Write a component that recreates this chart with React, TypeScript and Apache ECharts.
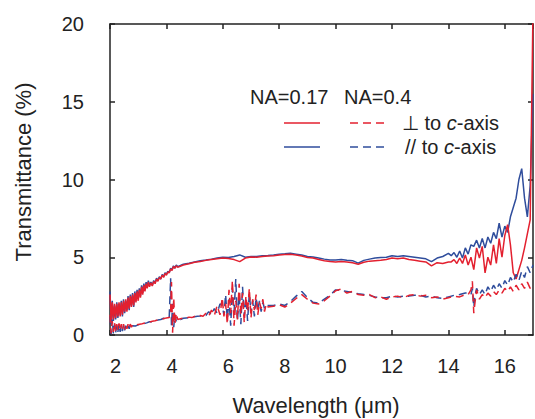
import React, { useEffect, useRef } from 'react';
import * as echarts from 'echarts';

// Wavelength grid (µm) shared by the two NA=0.17 curves
const wavelengthUpper = [
  2.00, 2.04, 2.08, 2.12, 2.16, 2.20, 2.24, 2.28, 2.32, 2.36, 2.40, 2.44, 2.48, 2.52, 2.56, 2.60, 2.64, 2.68,
  2.72, 2.76, 2.80, 2.84, 2.88, 2.92, 2.96, 3.00, 3.04, 3.08, 3.12, 3.16, 3.20, 3.24, 3.28, 3.32, 3.36, 3.40,
  3.45, 3.50, 3.55, 3.60, 3.65, 3.70, 3.75, 3.80, 3.85, 3.90, 3.95, 4.00, 4.05, 4.10, 4.15, 4.20, 4.25, 4.30,
  4.35, 4.40,
  4.6, 4.8, 5.0, 5.2, 5.4, 5.6, 5.8, 6.0, 6.2, 6.4, 6.6, 6.8, 7.0, 7.2, 7.4, 7.6, 7.8, 8.0, 8.2, 8.4, 8.6, 8.8,
  9.0, 9.2, 9.4, 9.6, 9.8, 10.0, 10.2, 10.4, 10.6, 10.8, 11.0, 11.2, 11.4, 11.6, 11.8, 12.0, 12.2, 12.4, 12.6,
  12.8, 13.0, 13.2, 13.4, 13.6, 13.8, 14.0,
  14.1, 14.2, 14.3, 14.4, 14.5, 14.6, 14.7, 14.8, 14.9, 15.0, 15.1, 15.2, 15.3, 15.4, 15.5, 15.6, 15.7, 15.8,
  15.9, 16.0, 16.1, 16.2, 16.3, 16.4, 16.5, 16.6, 16.7, 16.8, 16.9, 17.0,
];

// NA=0.17, ⊥ to c-axis (red solid)
const perpNA017 = [
  2.6, 0.9, 2.1, 1.0, 2.0, 1.1, 2.0, 1.2, 2.1, 1.2, 2.1, 1.3, 2.2, 1.5, 2.3, 1.5, 2.4, 1.7,
  2.5, 1.8, 2.6, 1.9, 2.7, 2.1, 2.8, 2.2, 2.9, 2.4, 3.1, 2.6, 3.2, 2.8, 3.3, 3.0, 3.4, 3.1,
  3.35, 3.15, 3.45, 3.3, 3.6, 3.45, 3.7, 3.6, 3.85, 3.7, 3.95, 3.85, 4.05, 4.0, 4.25, 4.15, 4.4, 4.3, 4.45, 4.35,
  4.5, 4.58, 4.68, 4.72, 4.8, 4.85, 4.9, 4.95, 4.92, 4.85, 4.72, 4.95, 5.02, 5.0, 5.05, 5.08, 5.1, 5.15,
  5.18, 5.2, 5.15, 5.08, 4.98, 4.95, 4.85, 4.78, 4.72, 4.7, 4.72, 4.7, 4.65, 4.55, 4.68, 4.75, 4.78, 4.8,
  4.85, 4.95, 4.9, 4.95, 4.85, 4.8, 4.75, 4.7, 4.45, 4.65, 4.6, 4.7,
  4.7, 4.85, 4.6, 4.95, 4.6, 5.15, 4.5, 5.0, 4.2, 5.6, 4.95, 5.7, 4.0, 5.0, 4.5, 5.8, 4.6, 6.2,
  5.0, 6.4, 7.1, 5.8, 4.0, 3.6, 4.2, 4.8, 5.6, 6.5, 7.4, 21,
];

// NA=0.17, // to c-axis (blue solid)
const paraNA017 = [
  2.8, 0.8, 2.2, 0.9, 1.9, 1.0, 2.1, 1.1, 2.0, 1.3, 2.2, 1.2, 2.3, 1.4, 2.2, 1.6, 2.5, 1.6,
  2.6, 1.9, 2.7, 1.8, 2.8, 2.2, 2.9, 2.3, 3.0, 2.5, 3.2, 2.7, 3.3, 2.9, 3.4, 3.1, 3.5, 3.2,
  3.4, 3.2, 3.5, 3.35, 3.65, 3.5, 3.75, 3.6, 3.9, 3.75, 4.0, 3.9, 4.1, 4.0, 4.3, 4.2, 4.45, 4.3, 4.5, 4.4,
  4.55, 4.62, 4.7, 4.78, 4.82, 4.88, 4.95, 5.0, 4.98, 5.05, 5.15, 5.0, 5.05, 5.05, 5.1, 5.12, 5.15, 5.2,
  5.22, 5.25, 5.2, 5.15, 5.05, 5.02, 4.95, 4.88, 4.82, 4.82, 4.85, 4.8, 4.78, 4.62, 4.8, 4.88, 4.95, 4.98,
  5.0, 5.1, 5.05, 5.1, 5.05, 5.0, 4.95, 4.9, 4.72, 4.95, 5.05, 5.25,
  5.1, 5.3, 5.0, 5.4, 4.95, 5.6, 5.2, 5.8, 5.7, 6.1, 5.6, 6.2, 5.6, 6.3, 5.9, 6.6, 6.2, 7.2,
  6.3, 7.0, 6.6, 7.6, 8.2, 8.8, 10.0, 10.7, 8.8, 7.6, 9.6, 15.5,
];

// Wavelength grid (µm) shared by the two NA=0.4 curves
const wavelengthLower = [
  2.00, 2.04, 2.08, 2.12, 2.16, 2.20, 2.24, 2.28, 2.32, 2.36, 2.40, 2.44, 2.48, 2.52, 2.56, 2.60, 2.64, 2.68,
  2.72, 2.76, 2.80,
  2.9, 3.0, 3.1, 3.2, 3.3, 3.4, 3.5, 3.6, 3.7, 3.8, 3.9, 4.0, 4.1,
  4.15, 4.18, 4.22, 4.26, 4.30, 4.35, 4.40,
  4.5, 4.6, 4.7, 4.8, 4.9, 5.0, 5.1, 5.2, 5.3, 5.4, 5.5, 5.6, 5.7, 5.8, 5.9,
  5.98, 6.04, 6.10, 6.16, 6.22, 6.28, 6.34, 6.40, 6.46, 6.52, 6.58, 6.64, 6.70, 6.76, 6.82, 6.88, 6.94, 7.00,
  7.06, 7.12, 7.18, 7.24, 7.30, 7.36, 7.42, 7.48, 7.54, 7.60,
  7.8, 8.0, 8.2, 8.4, 8.6, 8.8, 9.0, 9.2, 9.4, 9.6, 9.8, 10.0, 10.2, 10.4, 10.6, 10.8, 11.0, 11.2, 11.4, 11.6,
  11.8, 12.0, 12.2, 12.4, 12.6, 12.8, 13.0, 13.2, 13.4, 13.6, 13.8, 14.0, 14.2, 14.4, 14.6,
  14.7, 14.8, 14.85, 14.9, 14.95, 15.0, 15.1, 15.2, 15.3, 15.4, 15.5, 15.6, 15.7, 15.8, 15.9, 16.0, 16.1,
  16.2, 16.3, 16.4, 16.5, 16.6, 16.7, 16.8, 16.9, 17.0,
];

// NA=0.4, ⊥ to c-axis (red dashed)
const perpNA04 = [
  1.3, 0.1, 0.9, 0.2, 0.8, 0.25, 0.7, 0.3, 0.75, 0.3, 0.7, 0.35, 0.7, 0.35, 0.65, 0.4, 0.7, 0.45, 0.7, 0.5, 0.65,
  0.62, 0.68, 0.7, 0.75, 0.8, 0.83, 0.88, 0.92, 0.98, 1.02, 1.05, 1.1, 1.12,
  1.5, 3.4, 0.15, 2.4, 0.7, 1.4, 1.0,
  1.05, 1.1, 1.08, 1.15, 1.12, 1.2, 1.18, 1.25, 1.2, 1.4, 1.2, 1.6, 1.25, 1.9, 1.3,
  2.4, 1.2, 2.0, 0.7, 2.9, 1.4, 3.5, 0.6, 2.2, 1.0, 3.3, 1.3, 2.7, 0.8, 2.5, 1.5, 3.0, 1.1,
  2.3, 1.6, 2.6, 1.3, 2.1, 1.7, 2.3, 1.5, 2.0, 1.8,
  1.85, 1.95, 1.8, 2.05, 2.35, 2.6, 2.3, 2.05, 2.0, 2.2, 2.5, 2.85, 2.95, 2.7, 2.8, 2.6, 2.55, 2.6, 2.4, 2.45,
  2.3, 2.45, 2.5, 2.4, 2.55, 2.6, 2.5, 2.55, 2.4, 2.45, 2.3, 2.4, 2.5, 2.45, 2.6,
  2.6, 2.9, 3.45, 1.4, 2.2, 2.9, 2.3, 2.6, 2.4, 2.7, 2.5, 2.8, 2.6, 2.9, 2.7, 3.0, 2.8, 3.1, 2.8, 3.2,
  2.9, 3.3, 3.0, 3.4, 3.0, 3.3,
];

// NA=0.4, // to c-axis (blue dashed)
const paraNA04 = [
  1.2, 0.05, 1.0, 0.1, 0.7, 0.15, 0.6, 0.2, 0.7, 0.2, 0.6, 0.25, 0.65, 0.3, 0.6, 0.35, 0.6, 0.4, 0.65, 0.45, 0.6,
  0.58, 0.65, 0.72, 0.73, 0.78, 0.85, 0.86, 0.94, 0.96, 1.0, 1.08, 1.08, 1.15,
  3.65, 0.6, 2.0, 0.5, 1.3, 0.9, 1.05,
  1.0, 1.08, 1.1, 1.12, 1.15, 1.18, 1.2, 1.22, 1.28, 1.25, 1.5, 1.3, 1.7, 1.4, 2.0,
  1.9, 1.3, 2.6, 1.0, 2.3, 0.6, 3.0, 1.5, 3.6, 0.9, 2.6, 0.7, 3.1, 1.2, 2.4, 0.9, 2.7, 1.4,
  2.2, 1.2, 2.4, 1.6, 2.2, 1.5, 2.1, 1.7, 1.9, 1.9,
  1.9, 2.0, 1.9, 2.15, 2.5, 2.8, 2.4, 2.1, 2.05, 2.3, 2.55, 2.9, 2.85, 2.8, 2.75, 2.65, 2.6, 2.55, 2.45, 2.4,
  2.4, 2.5, 2.45, 2.5, 2.5, 2.55, 2.55, 2.45, 2.5, 2.4, 2.35, 2.45, 2.55, 2.6, 2.7,
  2.7, 2.6, 3.0, 1.8, 2.6, 3.0, 2.6, 2.9, 2.6, 3.1, 2.8, 3.2, 2.9, 3.3, 3.0, 3.5, 3.2, 3.7, 3.4, 3.9,
  3.5, 4.1, 3.7, 4.4, 4.0, 4.5,
];

const legendHeaders = ['NA=0.17', 'NA=0.4'];
const legendRows = ['⊥ to {i|c}-axis', '// to {i|c}-axis'];

const FONT = '"Liberation Sans", Arial, Helvetica, sans-serif';
const INK = '#222222';
const RED = '#e3202f';
const BLUE = '#2f4d9c';
const DASH = [8, 5];

function zip(xs: number[], ys: number[]) {
  const n = Math.min(xs.length, ys.length);
  const out: number[][] = [];
  for (let i = 0; i < n; i++) out.push([xs[i], ys[i]]);
  return out;
}

export default function App() {
  const ref = useRef<HTMLDivElement>(null);
  useEffect(() => {
    document.body.style.margin = '0';
    const chart = echarts.init(ref.current as HTMLDivElement, null, { renderer: 'svg' });
    const axisLine = { show: true, onZero: false, lineStyle: { color: INK, width: 1.5 } };
    const axisTick = { show: true, inside: true, length: 5, lineStyle: { color: INK, width: 1.5 } };
    const lineSeries = (name: string, xs: number[], ys: number[], color: string, dashed: boolean) => ({
      name,
      type: 'line',
      data: zip(xs, ys),
      showSymbol: false,
      symbol: 'none',
      xAxisIndex: 0,
      yAxisIndex: 0,
      clip: true,
      lineStyle: { color, width: 1.5, type: dashed ? DASH : 'solid' },
      itemStyle: { color },
    });
    const textStyle = (text: string, size: number, align: string) => ({
      text,
      fontSize: size,
      fontFamily: FONT,
      fill: INK,
      textAlign: align,
      align,
      textVerticalAlign: 'middle',
      verticalAlign: 'middle',
      rich: { i: { fontStyle: 'italic', fontSize: size, fontFamily: FONT, fill: INK } },
    });
    chart.setOption({
      animation: false,
      backgroundColor: '#ffffff',
      grid: { left: 110, right: 2, top: 24, bottom: 84 },
      xAxis: [
        {
          type: 'value', min: 2, max: 17, interval: 2, position: 'bottom',
          axisLine, axisTick, splitLine: { show: false },
          axisLabel: {
            margin: 21, fontSize: 20, color: INK, fontFamily: FONT, showMaxLabel: false,
            formatter: (v: number) => (v < 10 ? '\u2007' + v : String(v)),
          },
        },
        {
          type: 'value', min: 2, max: 17, interval: 2, position: 'top',
          axisLine, axisTick, splitLine: { show: false }, axisLabel: { show: false },
        },
      ],
      yAxis: [
        {
          type: 'value', min: 0, max: 20, interval: 5, position: 'left',
          axisLine, axisTick, splitLine: { show: false },
          axisLabel: { margin: 26, fontSize: 20, color: INK, fontFamily: FONT },
        },
        {
          type: 'value', min: 0, max: 20, interval: 5, position: 'right',
          axisLine, axisTick, splitLine: { show: false }, axisLabel: { show: false },
        },
      ],
      series: [
        lineSeries('NA=0.17 //', wavelengthUpper, paraNA017, BLUE, false),
        lineSeries('NA=0.17 ⊥', wavelengthUpper, perpNA017, RED, false),
        lineSeries('NA=0.4 //', wavelengthLower, paraNA04, BLUE, true),
        lineSeries('NA=0.4 ⊥', wavelengthLower, perpNA04, RED, true),
      ],
      graphic: [
        { type: 'text', x: 23, y: 172, rotation: Math.PI / 2, style: textStyle('Transmittance (%)', 22, 'center') },
        { type: 'text', x: 316, y: 405, style: textStyle('Wavelength (μm)', 22, 'center') },
        { type: 'text', x: 250, y: 97, style: textStyle(legendHeaders[0], 20, 'left') },
        { type: 'text', x: 344, y: 97, style: textStyle(legendHeaders[1], 20, 'left') },
        { type: 'line', shape: { x1: 284, y1: 123, x2: 320, y2: 123 }, style: { stroke: RED, lineWidth: 1.5 } },
        { type: 'line', shape: { x1: 350, y1: 123, x2: 384, y2: 123 }, style: { stroke: RED, lineWidth: 1.5, lineDash: DASH } },
        { type: 'line', shape: { x1: 284, y1: 147, x2: 320, y2: 147 }, style: { stroke: BLUE, lineWidth: 1.5 } },
        { type: 'line', shape: { x1: 350, y1: 147, x2: 384, y2: 147 }, style: { stroke: BLUE, lineWidth: 1.5, lineDash: DASH } },
        { type: 'text', x: 402, y: 123, style: textStyle(legendRows[0], 20, 'left') },
        { type: 'text', x: 405, y: 147, style: textStyle(legendRows[1], 20, 'left') },
      ],
    });
    return () => chart.dispose();
  }, []);
  return <div ref={ref} style={{ width: 535, height: 419 }} />;
}
